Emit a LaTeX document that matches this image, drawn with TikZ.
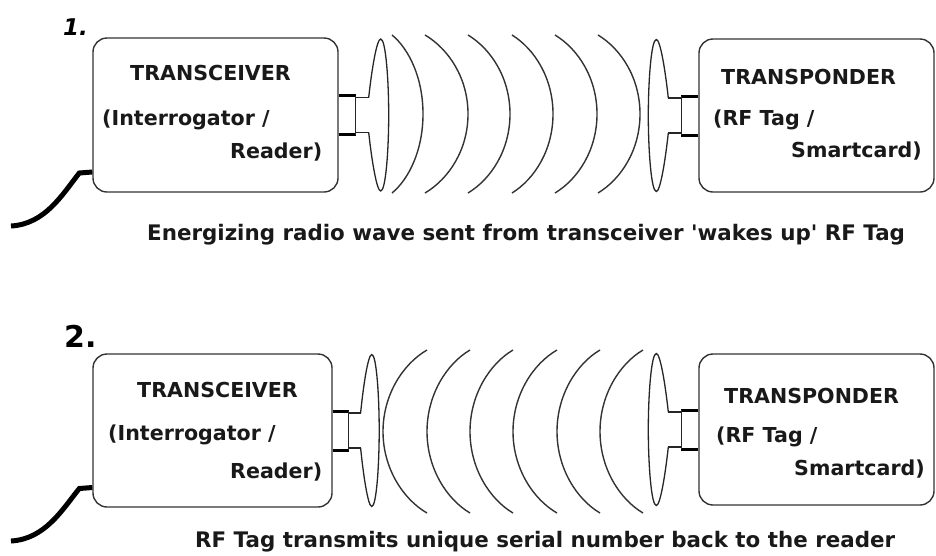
\documentclass[tikz,border=0pt]{standalone}
\usepackage{fontspec}
\newfontfamily\labelfont{DejaVu Sans}
\begin{document}
\begin{tikzpicture}[x=1pt,y=-1pt,
  box/.style={draw=black!80, line width=1.4pt, rounded corners=14pt, inner sep=0pt},
  txt/.style={font=\labelfont\bfseries\fontsize{20.6}{24}\selectfont, anchor=base west, inner sep=0pt, text=black!90},
  captxt/.style={font=\labelfont\bfseries\fontsize{21.4}{24}\selectfont, anchor=base west, inner sep=0pt, text=black!90},
  num/.style={anchor=base west, inner sep=0pt},
  wave/.style={draw=black!80, line width=1.4pt},
  stub/.style={draw=black, line width=3pt},
  thin/.style={draw=black!85, line width=1.3pt},
  cable/.style={draw=black, line width=5pt}]
\useasboundingbox (0,0) rectangle (936,555);

% ---------- panel 1 ----------
\node[num, font=\labelfont\bfseries\itshape\fontsize{23}{26}\selectfont] (n1) at (63,35) {1.};
\node[box, minimum width=245pt, minimum height=154pt] (tx1) at (215.5,115) {};
\node[box, minimum width=235pt, minimum height=153pt] (rx1) at (816.5,115.5) {};
\node[txt] (t1a) at (130,80) {TRANSCEIVER};
\node[txt] (t1b) at (102,125) {(Interrogator /};
\node[txt] (t1c) at (230,158) {Reader)};
\node[txt] (r1a) at (721,84) {TRANSPONDER};
\node[txt] (r1b) at (713,125) {(RF Tag /};
\node[txt] (r1c) at (791,157) {Smartcard)};
\node[captxt] (c1) at (147,240) {Energizing radio wave sent from transceiver 'wakes up' RF Tag};

\coordinate (plug1) at (11,226);
\draw[cable] ([yshift=-57pt]tx1.west) -- ++(-13,1) .. controls (62,195) and (45,224) .. (plug1);

\foreach \L/\w in {392/31, 425/43, 468/42, 512/41, 555/42, 598/42} {
  \draw[wave] (\L,35) .. controls ({\L+0.55*\w},49) and ({\L+\w},78) .. ({\L+\w},114)
     .. controls ({\L+\w},150) and ({\L+0.55*\w},179) .. (\L,193);
}

% antennas
\begin{scope}[shift={(tx1.east)}]
  \draw[stub] (0,-19.5) -- (17,-19.5) (0,19.5) -- (17,19.5);
  \draw[thin] (17,-19.5) -- (17,19.5);
  \draw[thin] (17,-17.5) -- (30,-17.5) (17,17.5) -- (30,17.5);
  \draw[thin] (30,-17.5) .. controls (33,-45) and (38,-76) .. (42,-76) .. controls (47,-76) and (50,-35) .. (50,0)
     .. controls (50,35) and (47,76) .. (42,76) .. controls (38,76) and (33,45) .. (30,17.5);
\end{scope}
\begin{scope}[shift={(rx1.west)}, xscale=-1]
  \draw[stub] (0,-19.5) -- (17,-19.5) (0,19.5) -- (17,19.5);
  \draw[thin] (17,-19.5) -- (17,19.5);
  \draw[thin] (17,-17.5) -- (30,-17.5) (17,17.5) -- (30,17.5);
  \draw[thin] (30,-17.5) .. controls (33,-45) and (38,-76) .. (42,-76) .. controls (47,-76) and (50,-35) .. (50,0)
     .. controls (50,35) and (47,76) .. (42,76) .. controls (38,76) and (33,45) .. (30,17.5);
\end{scope}

% ---------- panel 2 ----------
\node[num, font=\labelfont\bfseries\fontsize{30}{34}\selectfont] (n2) at (64,347) {2.};
\node[box, minimum width=239pt, minimum height=153pt] (tx2) at (212.5,430.5) {};
\node[box, minimum width=235pt, minimum height=151pt] (rx2) at (816.5,429.5) {};
\node[txt] (t2a) at (137,397) {TRANSCEIVER};
\node[txt] (t2b) at (108,440) {(Interrogator /};
\node[txt] (t2c) at (230,478) {Reader)};
\node[txt] (r2a) at (724,403) {TRANSPONDER};
\node[txt] (r2b) at (716,442) {(RF Tag /};
\node[txt] (r2c) at (794,475) {Smartcard)};
\node[captxt] (c2) at (195,547) {RF Tag transmits unique serial number back to the reader};

\coordinate (plug2) at (11,541);
\draw[cable] ([yshift=-57pt]tx2.west) -- ++(-13,1) .. controls (62,510) and (45,539) .. (plug2);

\foreach \R/\w in {427/44, 470/43, 513/43, 557/44, 600/43, 643/43} {
  \draw[wave] (\R,350) .. controls ({\R-0.55*\w},364) and ({\R-\w},395) .. ({\R-\w},431.5)
     .. controls ({\R-\w},468) and ({\R-0.55*\w},499) .. (\R,513);
}

\begin{scope}[shift={(tx2.east)}, xscale=0.93]
  \draw[stub] (0,-19.5) -- (17,-19.5) (0,19.5) -- (17,19.5);
  \draw[thin] (17,-19.5) -- (17,19.5);
  \draw[thin] (17,-17.5) -- (30,-17.5) (17,17.5) -- (30,17.5);
  \draw[thin] (30,-17.5) .. controls (33,-45) and (38,-76) .. (42,-76) .. controls (47,-76) and (50,-35) .. (50,0)
     .. controls (50,35) and (47,76) .. (42,76) .. controls (38,76) and (33,45) .. (30,17.5);
\end{scope}
\begin{scope}[shift={(rx2.west)}, xscale=-1]
  \draw[stub] (0,-19.5) -- (17,-19.5) (0,19.5) -- (17,19.5);
  \draw[thin] (17,-19.5) -- (17,19.5);
  \draw[thin] (17,-17.5) -- (30,-17.5) (17,17.5) -- (30,17.5);
  \draw[thin] (30,-17.5) .. controls (33,-45) and (38,-76) .. (42,-76) .. controls (47,-76) and (50,-35) .. (50,0)
     .. controls (50,35) and (47,76) .. (42,76) .. controls (38,76) and (33,45) .. (30,17.5);
\end{scope}
\end{tikzpicture}
\end{document}
